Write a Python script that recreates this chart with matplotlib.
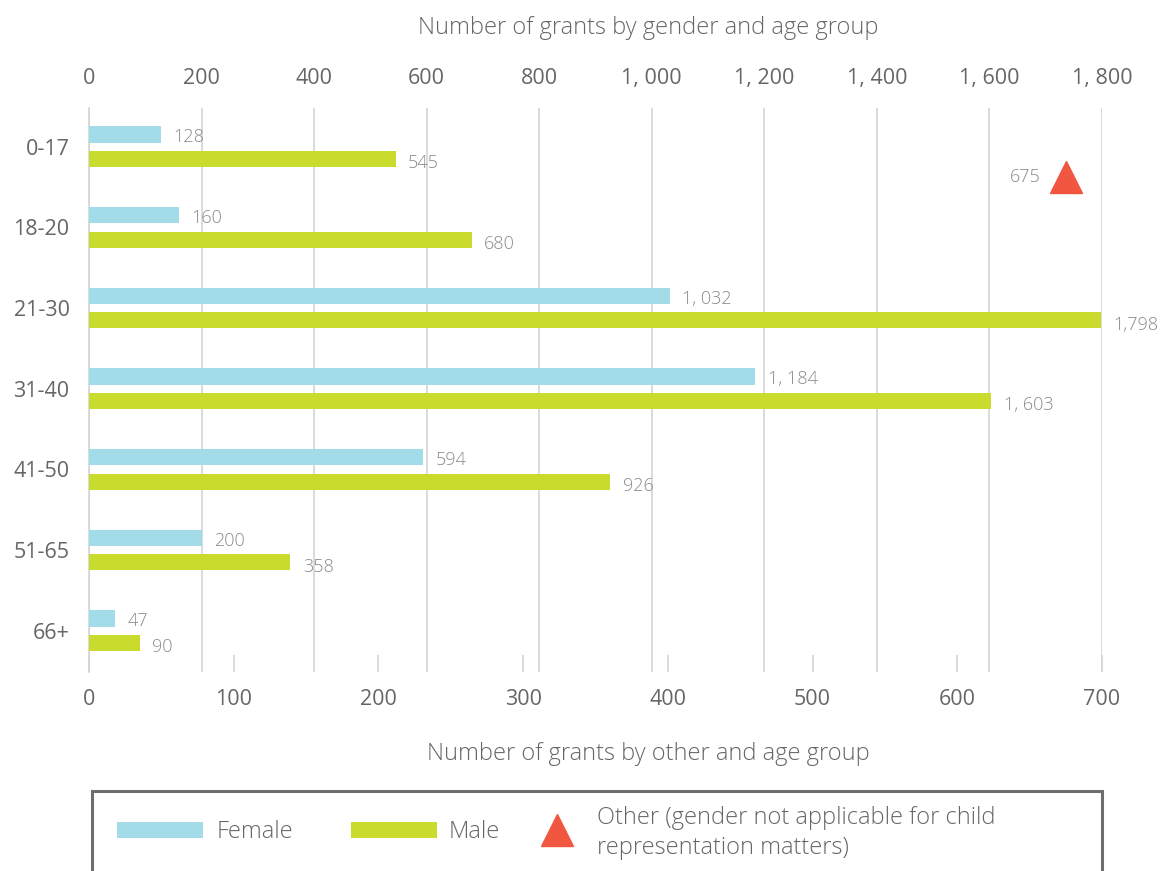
import matplotlib.pyplot as plt
from matplotlib.patches import Rectangle
from matplotlib.lines import Line2D
from matplotlib.ticker import FuncFormatter

# Age groups and grant counts
age_groups = ["0-17", "18-20", "21-30", "31-40", "41-50", "51-65", "66+"]
female = [128, 160, 1032, 1184, 594, 200, 47]
male = [545, 680, 1798, 1603, 926, 358, 90]
other_group = "0-17"
other_value = 675

FEMALE_C = "#a3dce9"
MALE_C = "#c9dc2e"
OTHER_C = "#f15641"
TEXT_C = "#666666"
LABEL_C = "#8a8a8a"
GRID_C = "#d4d4d4"

plt.rcParams["font.family"] = ["Open Sans", "DejaVu Sans"]


def fmt(v, sep=", "):
    return f"{v:,.0f}".replace(",", sep)


fig = plt.figure(figsize=(11.74, 8.71), dpi=100)
ax = fig.add_axes([0.0758, 0.2285, 0.8629, 0.6475])
# secondary scale for the "other" category, shares the y axis
ax2 = ax.twiny()

ys = list(range(len(age_groups)))
h = 0.2
off = 0.152
ax.barh([y - off for y in ys], female, height=h, color=FEMALE_C, zorder=3)
ax.barh([y + off for y in ys], male, height=h, color=MALE_C, zorder=3)

for y, f, m in zip(ys, female, male):
    ax.annotate(fmt(f), (f, y - off), xytext=(9, -2), textcoords="offset points",
                va="center", ha="left", fontsize=13, color=LABEL_C, fontweight="light")
    ax.annotate(fmt(m, "," if m == 1798 else ", "), (m, y + off), xytext=(9, -3),
                textcoords="offset points", va="center", ha="left", fontsize=13,
                color=LABEL_C, fontweight="light")

ax.set_xlim(0, 1800)
ax.set_ylim(6.51, -0.48)
ax.set_yticks(ys)
ax.set_yticklabels(age_groups)
ax.xaxis.tick_top()
ax.xaxis.set_label_position("top")
ax.set_xticks(range(0, 1801, 200))
ax.xaxis.set_major_formatter(FuncFormatter(lambda v, p: fmt(v)))
ax.tick_params(axis="x", length=0, pad=14, labelsize=15.5, labelcolor=TEXT_C)
ax.tick_params(axis="y", length=0, pad=14, labelsize=15.5, labelcolor=TEXT_C)
ax.set_xlabel("Number of grants by gender and age group", fontsize=17,
              color=TEXT_C, labelpad=24, fontweight="light")
ax.xaxis.label.set_x(0.552)
ax.grid(axis="x", color=GRID_C, linewidth=1.2, zorder=0)
for s in ["top", "right", "bottom"]:
    ax.spines[s].set_visible(False)
ax.spines["left"].set_color(GRID_C)
ax.spines["left"].set_linewidth(1.2)

ax2.set_xlim(0, 700)
ax2.xaxis.tick_bottom()
ax2.xaxis.set_label_position("bottom")
ax2.set_xticks(range(0, 701, 100))
ax2.tick_params(axis="x", direction="in", length=12, width=1.2, color=GRID_C,
                pad=12, labelsize=15.5, labelcolor=TEXT_C)
ax2.set_xlabel("Number of grants by other and age group", fontsize=17,
               color=TEXT_C, labelpad=23, fontweight="light")
ax2.xaxis.label.set_x(0.552)
for s in ax2.spines.values():
    s.set_visible(False)

oy = age_groups.index(other_group) + 0.37
ax2.plot([other_value], [oy], marker="^", markersize=23, color=OTHER_C,
         linestyle="none", zorder=4)
ax2.annotate(str(other_value), (other_value, oy), xytext=(-18, 0),
             textcoords="offset points", ha="right", va="center",
             fontsize=13, color=LABEL_C, fontweight="light")

# Legend box, running off the bottom edge
fig.add_artist(Rectangle((0.0787, -0.05), 0.8598, 0.1424, transform=fig.transFigure,
                         fill=False, edgecolor="#6e6e6e", linewidth=2.2))
fig.add_artist(Rectangle((0.0997, 0.0379), 0.0733, 0.0184, transform=fig.transFigure,
                         facecolor=FEMALE_C, edgecolor="none"))
fig.text(0.1848, 0.0445, "Female", fontsize=17, color=TEXT_C, va="center",
         fontweight="light")
fig.add_artist(Rectangle((0.2990, 0.0379), 0.0733, 0.0184, transform=fig.transFigure,
                         facecolor=MALE_C, edgecolor="none"))
fig.text(0.3825, 0.0445, "Male", fontsize=17, color=TEXT_C, va="center",
         fontweight="light")
fig.add_artist(Line2D([0.4744], [0.0470], transform=fig.transFigure, marker="^",
                      markersize=23, color=OTHER_C, linestyle="none"))
fig.text(0.5085, 0.0435, "Other (gender not applicable for child\nrepresentation matters)",
         fontsize=17, color=TEXT_C, va="center", linespacing=1.35, fontweight="light")

fig.savefig("out.png", dpi=100)
